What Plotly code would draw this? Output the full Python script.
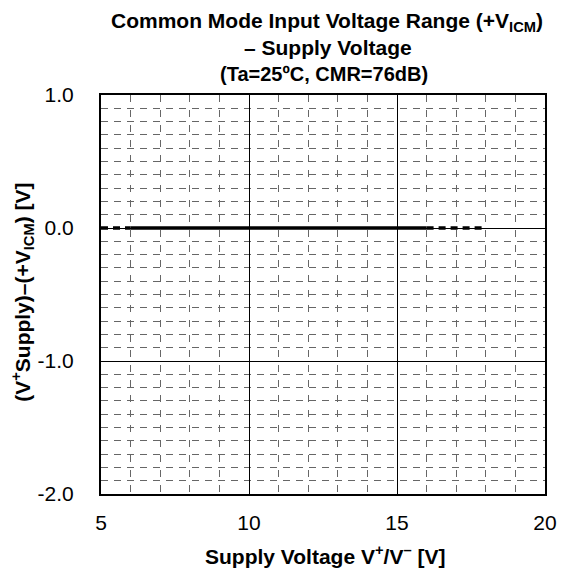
import plotly.graph_objects as go

# Data
supply_solid = [6, 8, 10, 12, 14, 16]
offset_solid = [0.0, 0.0, 0.0, 0.0, 0.0, 0.0]
supply_dash_low = [5, 6]
offset_dash_low = [0.0, 0.0]
supply_dash_high = [16, 18]
offset_dash_high = [0.0, 0.0]

x_ticks = [5, 10, 15, 20]
x_tick_labels = ["5", "10", "15", "20"]
y_ticks = [1.0, 0.0, -1.0, -2.0]
y_tick_labels = ["1.0", "0.0", "-1.0", "-2.0"]

FONT = "Liberation Sans, Arial, sans-serif"
W, H = 569, 574
ML, MR, MT, MB = 101, 14, 95, 80
PW, PH = W - ML - MR, H - MT - MB

fig = go.Figure()
fig.add_trace(go.Scatter(x=supply_dash_low, y=offset_dash_low, mode="lines",
                         line=dict(color="black", width=3.5, dash="7px,5px"),
                         showlegend=False, hoverinfo="skip"))
fig.add_trace(go.Scatter(x=supply_dash_high, y=offset_dash_high, mode="lines",
                         line=dict(color="black", width=3.5, dash="7px,5px"),
                         showlegend=False, hoverinfo="skip"))
fig.add_trace(go.Scatter(x=supply_solid, y=offset_solid, mode="lines",
                         line=dict(color="black", width=3.5),
                         showlegend=False, hoverinfo="skip"))

axis_common = dict(
    showline=True, mirror=True, linecolor="black", linewidth=2,
    showgrid=True, gridcolor="black", gridwidth=1,
    zeroline=False, ticks="",
    tickfont=dict(family=FONT, size=21, color="black"),
)

fig.update_layout(
    width=W, height=H,
    margin=dict(l=ML, r=MR, t=MT, b=MB),
    paper_bgcolor="white", plot_bgcolor="white",
    font=dict(family=FONT, color="black"),
    xaxis=dict(range=[5, 20], tickvals=x_ticks, ticktext=x_tick_labels,
               minor=dict(dtick=1, showgrid=True, gridcolor="#666666",
                          gridwidth=1, griddash="7px,8px"),
               ticklabelstandoff=9,
               **axis_common),
    yaxis=dict(range=[-2, 1], tickvals=y_ticks, ticktext=y_tick_labels,
               minor=dict(dtick=0.1, showgrid=True, gridcolor="#666666",
                          gridwidth=1, griddash="7px,6px"),
               ticklabelstandoff=21,
               **axis_common),
)

def px_x(px):
    return (px - ML) / PW

def px_y(py):
    return 1 + (MT - py) / PH

# titles (positions in pixels from the reference)
title_lines = [
    ("<b>Common Mode Input Voltage Range (+V<sub>ICM</sub>)</b>", 21, 332, 22),
    ("<b>– Supply Voltage</b>", 21, 333, 48),
    ("<b>(Ta=25ºC, CMR=76dB)</b>", 20, 329, 74),
]
for text, size, xpix, ypix in title_lines:
    fig.add_annotation(text=text, xref="paper", yref="paper",
                       x=px_x(xpix), y=px_y(ypix),
                       xanchor="center", yanchor="middle", showarrow=False,
                       font=dict(family=FONT, size=size, color="black"))

fig.add_annotation(text="<b>Supply Voltage V<sup>+</sup>/V<sup>–</sup> [V]</b>",
                   xref="paper", yref="paper", x=px_x(330), y=px_y(555),
                   xanchor="center", yanchor="middle", showarrow=False,
                   font=dict(family=FONT, size=21, color="black"))
fig.add_annotation(text="<b>(V<sup>+</sup>Supply)–(+V<sub>ICM</sub>) [V]</b>",
                   xref="paper", yref="paper", x=px_x(20), y=px_y(292),
                   xanchor="center", yanchor="middle", showarrow=False, textangle=-90,
                   font=dict(family=FONT, size=21, color="black"))

fig.write_html("out.html", config={"displayModeBar": False},
               post_script="document.body.style.margin='0px';")
